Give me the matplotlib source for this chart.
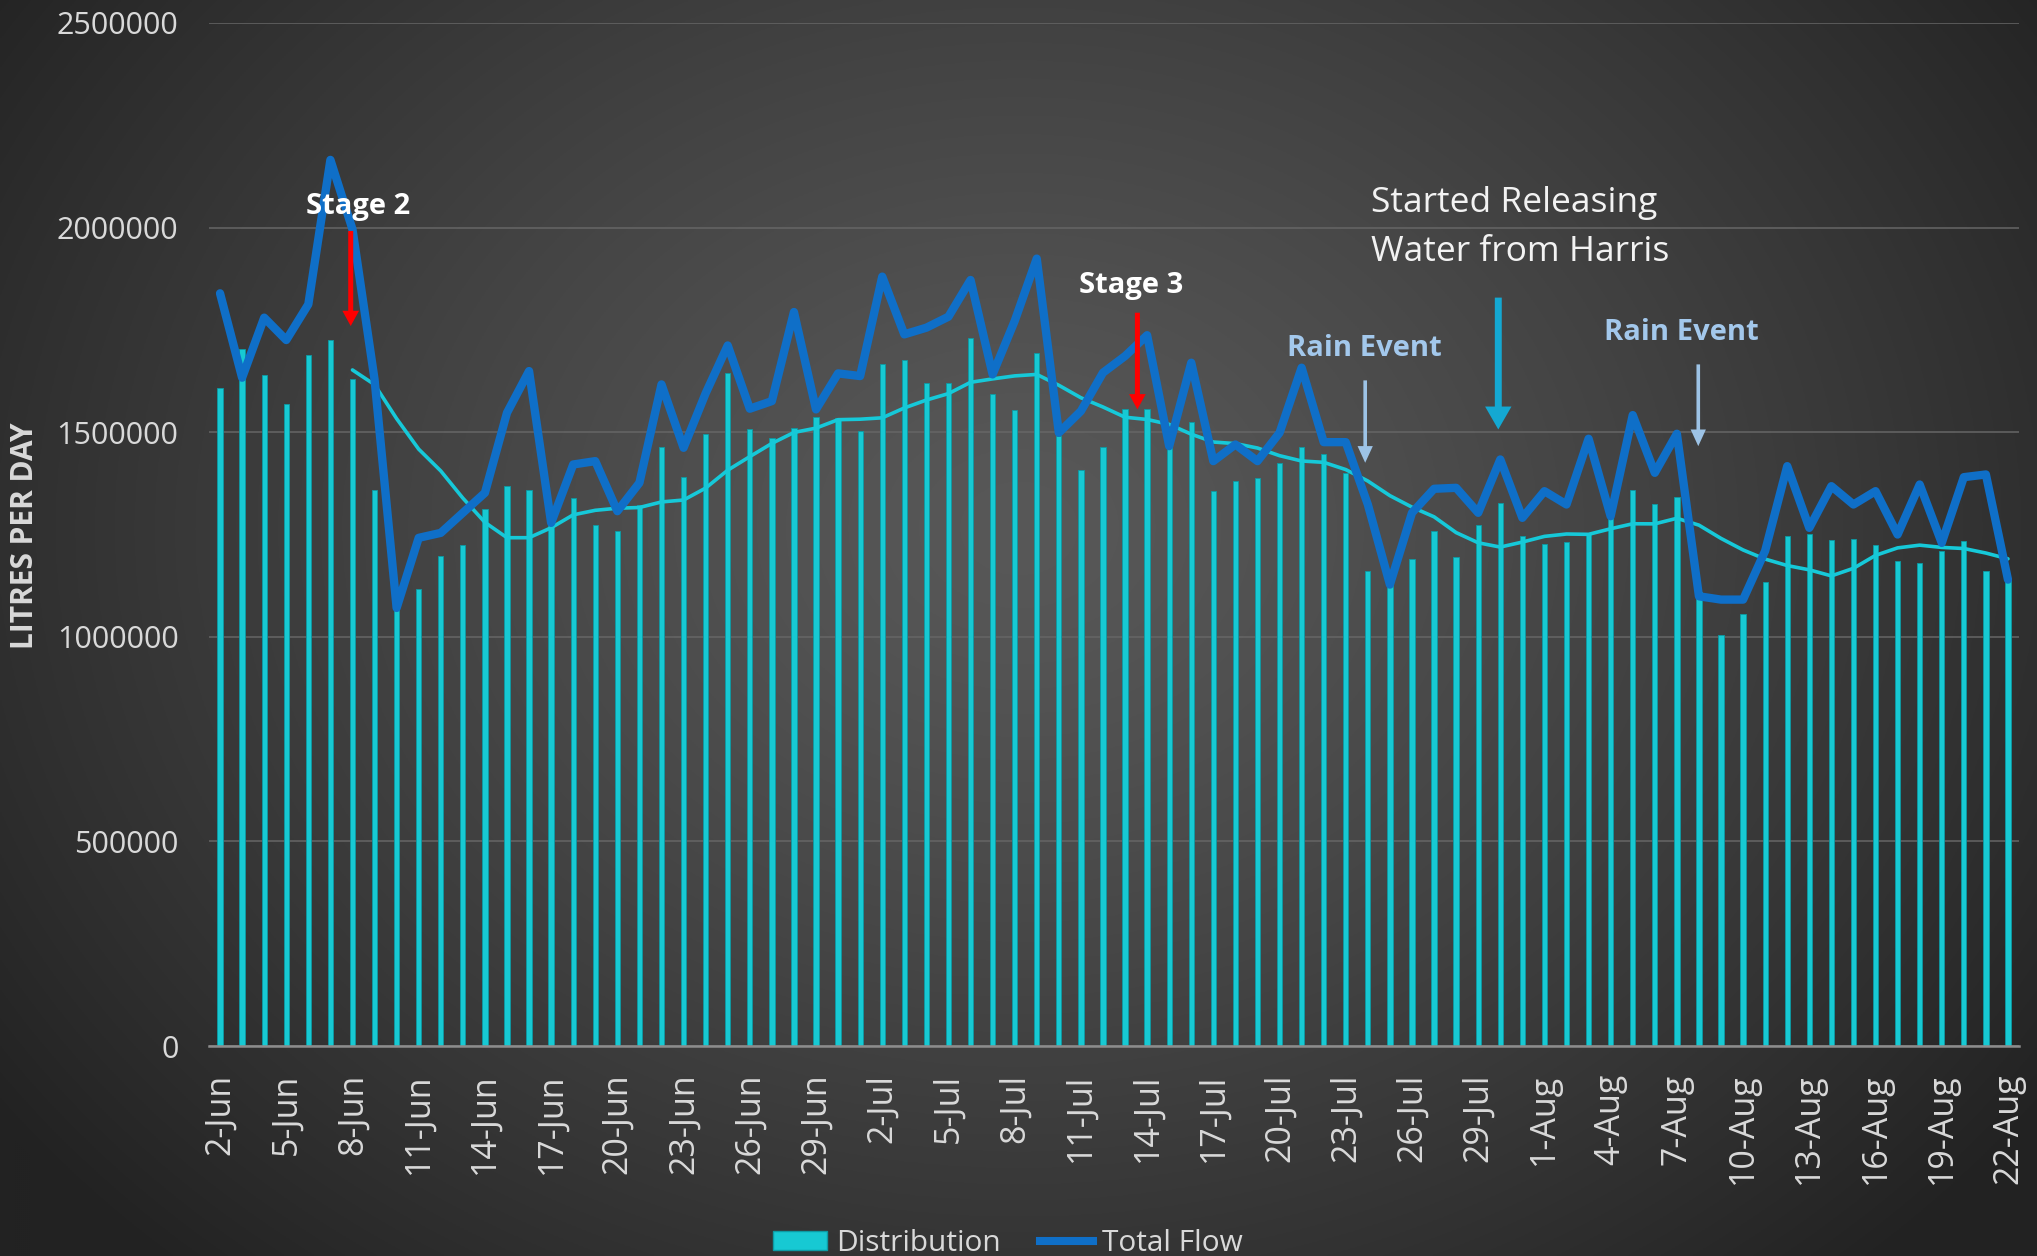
import numpy as np
import pandas as pd
import matplotlib
matplotlib.use("Agg")
import matplotlib.pyplot as plt
from matplotlib.patches import Patch
from matplotlib.lines import Line2D

# ---------------- data ----------------
dates = pd.date_range("2019-06-02", "2019-08-22", freq="D")
categories = [f"{d.day}-{d.strftime('%b')}" for d in dates]

distribution = [
    1608700, 1702400, 1638800, 1569600, 1688500, 1726100, 1630700, 1358300,
    1120000, 1117000, 1196900, 1223800, 1311100, 1368100, 1358300, 1290000,
    1338000, 1274400, 1259700, 1323300, 1463500, 1391000, 1494500, 1643700,
    1506700, 1485500, 1510800, 1537700, 1535300, 1502700, 1667300, 1675500,
    1620800, 1620800, 1730900, 1593900, 1554000, 1692600, 1490000, 1407300,
    1462700, 1555700, 1555700, 1470000, 1524700, 1355900, 1380400, 1386900,
    1425200, 1464300, 1447200, 1400700, 1160200, 1130000, 1190400, 1259700,
    1194500, 1272800, 1327300, 1245800, 1227100, 1231100, 1254000, 1290000,
    1358300, 1325700, 1341200, 1110000, 1003700, 1056700, 1134100, 1247500,
    1252400, 1237700, 1239300, 1225400, 1184700, 1180600, 1209100, 1233600,
    1160200, 1140000,
]

total_flow = [
    1839400, 1633200, 1779900, 1725200, 1812500, 2165500, 1995900, 1629000,
    1070500, 1241800, 1254000, 1303000, 1351800, 1547500, 1649400, 1278400,
    1421100, 1429300, 1307000, 1376300, 1616800, 1461900, 1595000, 1712000,
    1557400, 1576000, 1793700, 1555700, 1643700, 1637200, 1880200, 1739100,
    1755400, 1782300, 1872000, 1641300, 1771700, 1924200, 1498600, 1551500,
    1645400, 1686000, 1737000, 1465900, 1669800, 1429300, 1470000, 1429300,
    1498600, 1657600, 1475700, 1475700, 1323300, 1127600, 1303000, 1361700,
    1364100, 1303000, 1433400, 1290700, 1355900, 1323300, 1484000, 1294700,
    1541800, 1400700, 1496200, 1099000, 1090900, 1090900, 1210000, 1417000,
    1266200, 1368100, 1323300, 1355900, 1249900, 1372200, 1229500, 1390100,
    1396700, 1139800,
]

# 7-period moving-average trendline of Distribution (as in the source chart)
ma_period = 7
moving_avg = pd.Series(distribution).rolling(ma_period).mean()

yticks = [0, 500000, 1000000, 1500000, 2000000, 2500000]
tick_every = 3

# annotations: (label, x index, text value, arrow x, arrow top, arrow tip)
stage2 = ("Stage 2", 6.25, 2032600, 5.92, 1991800, 1759400)
stage3 = ("Stage 3", 41.26, 1839000, 41.56, 1792000, 1555700)
rain1 = ("Rain Event", 51.86, 1686000, 51.88, 1626600, 1425300)
rain2 = ("Rain Event", 66.19, 1725000, 66.97, 1665700, 1465900)
release_lines = ["Started Releasing", "Water from Harris"]
release = (52.14, [2038000, 1918000], 57.91, 1828900, 1506700)

# ---------------- figure ----------------
W, H, DPI = 2037, 1256, 100
fig = plt.figure(figsize=(W / DPI, H / DPI), dpi=DPI)

# radial gradient background
bg = fig.add_axes([0, 0, 1, 1], zorder=-10)
yy, xx = np.mgrid[0:H:2, 0:W:2]
cx, cy = 0.50 * W, 0.42 * H
r = np.sqrt(((xx - cx) / (0.62 * W)) ** 2 + ((yy - cy) / (0.80 * H)) ** 2)
r = np.clip(r, 0, 1) ** 1.3
c0 = np.array([0x58, 0x58, 0x58]) / 255.0
c1 = np.array([0x22, 0x22, 0x22]) / 255.0
img = c0[None, None, :] + (c1 - c0)[None, None, :] * r[:, :, None]
bg.imshow(img, aspect="auto", extent=[0, 1, 0, 1], origin="upper")
bg.set_axis_off()

left, right = 209 / W, 2019 / W
bottom, top = 1 - 1046 / H, 1 - 23 / H
ax = fig.add_axes([left, bottom, right - left, top - bottom])
ax.set_facecolor("none")

x = np.arange(len(categories))
bar_color = "#17C9D3"
ax.bar(x, distribution, width=0.24, color=bar_color, edgecolor="#0C9AA4",
       linewidth=0.6, zorder=2)
ax.plot(x, moving_avg, color="#16C9D9", lw=2.6, zorder=3,
        solid_joinstyle="round", solid_capstyle="round")
ax.plot(x, total_flow, color="#0F6FC8", lw=6.0, zorder=4,
        solid_joinstyle="round", solid_capstyle="round")

ax.set_xlim(-0.5, len(categories) - 0.5)
ax.set_ylim(0, 2500000)
ax.set_yticks(yticks)
ax.set_yticklabels([str(v) for v in yticks])
ax.set_xticks(x[::tick_every])
ax.set_xticklabels(categories[::tick_every], rotation=90)
ax.yaxis.grid(True, color="#666666", lw=1.1, zorder=0)
ax.set_axisbelow(True)
for s in ["top", "right", "left"]:
    ax.spines[s].set_visible(False)
ax.spines["bottom"].set_color("#8C8C8C")
ax.spines["bottom"].set_linewidth(1.8)
ax.tick_params(axis="both", length=0)
ax.tick_params(axis="y", pad=22, labelsize=22, labelcolor="#D9D9D9")
ax.tick_params(axis="x", pad=20, labelsize=24.5, labelcolor="#D9D9D9")
for lab in ax.get_yticklabels() + ax.get_xticklabels():
    lab.set_fontfamily("Open Sans")

fig.text(25 / W, 1 - 536 / H, "LITRES PER DAY", rotation=90, ha="center",
         va="center", fontsize=21.5, fontweight="bold", color="#D9D9D9",
         family="Open Sans")


def arrow(xi, y0, y1, color, tail, hw, hl):
    ax.annotate("", xy=(xi, y1), xytext=(xi, y0),
                arrowprops=dict(arrowstyle=f"simple,head_width={hw},head_length={hl},tail_width={tail}",
                                color=color, lw=0, mutation_scale=1,
                                shrinkA=0, shrinkB=0), zorder=6)


for lab, tx, ty, ax_x, a0, a1 in [stage2, stage3]:
    ax.text(tx, ty, lab, ha="center", va="baseline", fontsize=21,
            fontweight="bold", color="white", family="Open Sans", zorder=6)
    arrow(ax_x, a0, a1, "#FF0000", 3.6, 12, 11)

for lab, tx, ty, ax_x, a0, a1 in [rain1, rain2]:
    ax.text(tx, ty, lab, ha="center", va="baseline", fontsize=21,
            fontweight="bold", color="#A3C8EC", family="Open Sans", zorder=6)
    arrow(ax_x, a0, a1, "#9DC3E6", 2.6, 11, 12)

rx, rys, rax, r0, r1 = release
for line, ry in zip(release_lines, rys):
    ax.text(rx, ry, line, ha="left", va="baseline", fontsize=25.5,
            color="#F2F2F2", family="Open Sans", zorder=6)
arrow(rax, r0, r1, "#14A8D2", 5, 19, 16.5)

handles = [Patch(facecolor=bar_color, edgecolor="#0C9AA4", linewidth=1.0),
           Line2D([0], [0], color="#0F6FC8", lw=5.8)]
leg = fig.legend(handles, ["Distribution", "Total Flow"], loc="center",
                 bbox_to_anchor=(0.495, 0.010), ncol=2, frameon=False,
                 prop={"family": "Open Sans", "size": 21.5},
                 handlelength=1.8, handleheight=0.6, handletextpad=0.3,
                 columnspacing=1.3, borderaxespad=0, borderpad=0)
for t in leg.get_texts():
    t.set_color("#D9D9D9")

fig.savefig("out.png", dpi=DPI)
